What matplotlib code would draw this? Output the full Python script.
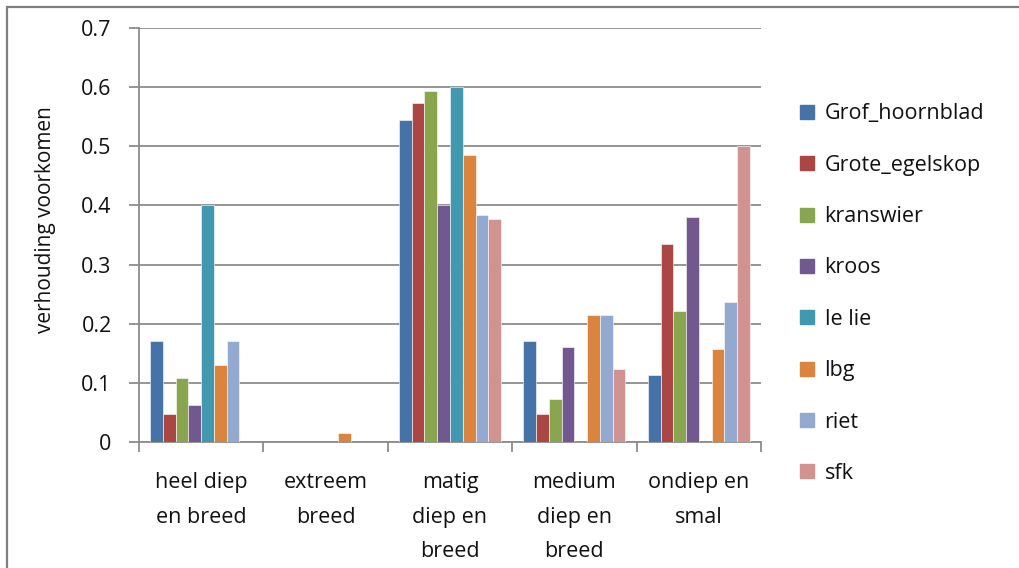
import matplotlib
matplotlib.use("Agg")
import matplotlib.pyplot as plt
import numpy as np
from matplotlib.patches import Rectangle
from matplotlib.lines import Line2D

categories = ["heel diep\nen breed", "extreem\nbreed", "matig\ndiep en\nbreed",
              "medium\ndiep en\nbreed", "ondiep en\nsmal"]
series_names = ["Grof_hoornblad", "Grote_egelskop", "kranswier", "kroos",
                "lelie", "lbg", "riet", "sfk"]
legend_labels = ["Grof_hoornblad", "Grote_egelskop", "kranswier", "kroos",
                 "le lie", "lbg", "riet", "sfk"]
values = {
    "Grof_hoornblad": [0.170, 0.0, 0.544, 0.171, 0.113],
    "Grote_egelskop": [0.048, 0.0, 0.573, 0.048, 0.334],
    "kranswier":      [0.109, 0.0, 0.594, 0.073, 0.222],
    "kroos":          [0.062, 0.0, 0.400, 0.161, 0.381],
    "lelie":          [0.400, 0.0, 0.600, 0.0,   0.0],
    "lbg":            [0.131, 0.015, 0.485, 0.214, 0.157],
    "riet":           [0.170, 0.0, 0.384, 0.214, 0.236],
    "sfk":            [0.0,   0.0, 0.377, 0.124, 0.500],
}
colors = ["#4572A7", "#AA4643", "#89A54E", "#71588F",
          "#4198AF", "#DB843D", "#93A9CF", "#D19392"]
yticks = [0, 0.1, 0.2, 0.3, 0.4, 0.5, 0.6, 0.7]
ytick_labels = ["0", "0.1", "0.2", "0.3", "0.4", "0.5", "0.6", "0.7"]

W, H = 1019, 568
fig = plt.figure(figsize=(W / 100, H / 100), dpi=100)
font = "Open Sans"
txt = "#111111"
grey = "#8c8c8c"
fs = 15.5

# chart frame (top and left edges visible)
fig.patches.append(Rectangle((7 / W, -0.1), 1.2, 1 - 7 / H + 0.1,
                             transform=fig.transFigure, fill=False,
                             edgecolor="#7f7f7f", linewidth=1.6))

ax = fig.add_axes([139 / W, 1 - 442 / H, (761 - 139) / W, (442 - 28) / H])
n = len(series_names)
bw = 0.1025
x = np.arange(len(categories))
for i, name in enumerate(series_names):
    offs = (i - (n - 1) / 2) * bw
    ax.bar(x + offs, values[name], width=bw, color=colors[i],
           edgecolor="white", linewidth=0.4, zorder=3)

ax.set_xlim(-0.5, len(categories) - 0.5)
ax.set_ylim(0, 0.7)
ax.set_yticks(yticks)
ax.set_yticklabels(ytick_labels, fontsize=fs, fontfamily=font, color=txt)
ax.yaxis.grid(True, color=grey, linewidth=1.3, zorder=0)
for s in ["top", "right"]:
    ax.spines[s].set_visible(False)
for s in ["left", "bottom"]:
    ax.spines[s].set_color(grey)
    ax.spines[s].set_linewidth(1.3)
ax.tick_params(axis="y", length=7.2, color=grey, width=1.3, pad=12.5)
ax.set_xticks(np.arange(len(categories) + 1) - 0.5, minor=True)
ax.set_xticks([])
ax.tick_params(axis="x", which="minor", length=7, color=grey, width=1.3)

for xi, lab in zip(x, categories):
    ax.text(xi, -0.051, lab, ha="center", va="top", fontsize=fs,
            fontfamily=font, color=txt, linespacing=1.85,
            transform=ax.transData)

fig.text(46 / W, 1 - 220 / H, "verhouding voorkomen", rotation=90,
         ha="center", va="center", fontsize=15, fontfamily=font, color=txt)

handles = [Line2D([0], [0], marker="s", linestyle="none", markersize=10,
                  markerfacecolor=c, markeredgecolor=c) for c in colors]
fig.legend(handles, legend_labels, loc="upper left",
           bbox_to_anchor=(775 / W, 1 - 84 / H), frameon=False,
           prop={"family": font, "size": fs}, labelspacing=1.41,
           handletextpad=0.2, handlelength=1.2, labelcolor=txt)

fig.savefig("out.png", dpi=100, facecolor="white")
